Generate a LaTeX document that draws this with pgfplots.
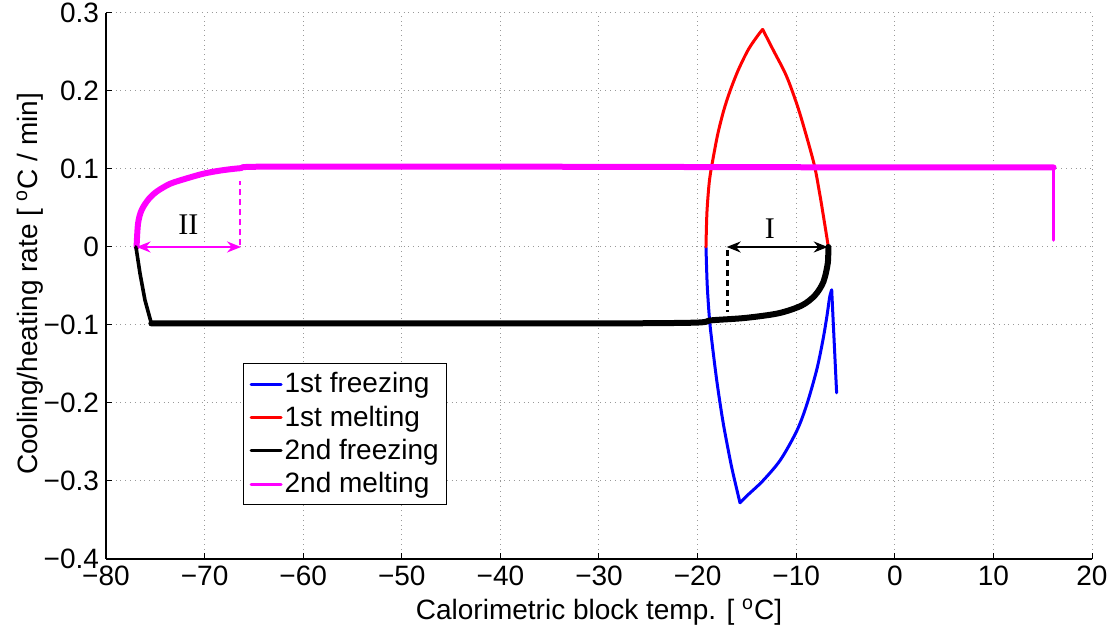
\documentclass[border=0pt]{standalone}
\usepackage{fontspec}
\setmainfont{Liberation Sans}
\newfontfamily\seriffont{Liberation Serif}
\usepackage{pgfplots}
\pgfplotsset{compat=1.18}
\usetikzlibrary{arrows.meta}
\definecolor{mblue}{RGB}{0,0,255}
\definecolor{mred}{RGB}{255,0,0}
\definecolor{mmag}{RGB}{255,0,255}
\begin{document}
\begin{tikzpicture}[font=\fontsize{14}{16}\selectfont]
\begin{axis}[name=ax, scale only axis, width=493pt, height=273pt,
  xmin=-80, xmax=20, ymin=-0.4, ymax=0.3,
  axis x line*=bottom, axis y line*=left,
  axis line style={-, line width=0.6pt},
  xtick={-80,-70,-60,-50,-40,-30,-20,-10,0,10,20},
  xticklabels={−80,−70,−60,−50,−40,−30,−20,−10,0,10,20},
  ytick={-0.4,-0.3,-0.2,-0.1,0,0.1,0.2,0.3},
  yticklabels={−0.4,−0.3,−0.2,−0.1,0,0.1,0.2,0.3},
  tick align=inside, major tick length=3pt,
  tick style={black, line width=0.5pt},
  grid=major, grid style={dotted, gray!80, line width=0.5pt},
  xlabel={Calorimetric block temp. [ \textsuperscript{o}C]},
  ylabel={Cooling/heating rate [ \textsuperscript{o}C / min]},
  xlabel style={at={(axis description cs:0.5,-0.097)}, anchor=center},
  ylabel style={at={(axis description cs:-0.077,0.504)}, anchor=center},
  legend style={at={(axis description cs:0.139,0.359)}, anchor=north west,
    draw=black, line width=0.6pt, inner xsep=3pt, inner ysep=2.5pt,
    row sep=1pt, nodes={inner xsep=1pt}},
  legend cell align=left,
  legend image code/.code={\draw[#1, line width=1.5pt] (0pt,0pt) -- (15pt,0pt);},
  every axis plot/.append style={line cap=round, line join=round},
]
% 1st freezing
\addplot[mblue, line width=1.5pt] coordinates {
(-5.9,-0.187) (-6.4,-0.055)
};
\addlegendentry{1st freezing}
\addplot[mblue, line width=1.5pt, smooth, tension=0.5, forget plot] coordinates {
(-6.4,-0.055) (-6.6,-0.064) (-6.9,-0.09) (-7.3,-0.12)
(-7.93,-0.158) (-8.95,-0.203) (-9.95,-0.236) (-11.6,-0.273)
(-13.4,-0.300) (-15.0,-0.319) (-15.7,-0.328)
};
\addplot[mblue, line width=1.5pt, smooth, tension=0.4, forget plot] coordinates {
(-15.7,-0.328) (-16.55,-0.282) (-17.4,-0.226)
(-18.07,-0.170) (-18.74,-0.100) (-19.02,-0.05) (-19.15,0)
};
% 1st melting
\addplot[mred, line width=1.5pt, smooth, tension=0.5] coordinates {
(-19.15,0) (-19.05,0.045) (-18.8,0.085) (-18.45,0.112) (-17.95,0.145)
(-17.35,0.175) (-16.71,0.200) (-15.87,0.227) (-14.86,0.253) (-13.9,0.271) (-13.4,0.279)
};
\addlegendentry{1st melting}
\addplot[mred, line width=1.5pt, smooth, tension=0.5, forget plot] coordinates {
(-13.4,0.279) (-12.35,0.253) (-11.16,0.224) (-10.43,0.201) (-9.53,0.167)
(-8.22,0.108) (-7.64,0.070) (-7.18,0.035) (-6.8,0.005) (-6.74,0)
};
% 2nd freezing
\addplot[black, line width=3pt, smooth, tension=0.5] coordinates {
(-6.74,0) (-6.8,-0.021) (-7.25,-0.045) (-8.1,-0.062) (-9.44,-0.075)
(-11.8,-0.085) (-15.2,-0.091) (-18.6,-0.094) (-20.26,-0.097) (-30,-0.098)
(-50,-0.098) (-70,-0.098) (-75.4,-0.098)
};
\addlegendentry{2nd freezing}
% 2nd melting
\addplot[mmag, line width=3pt, smooth, tension=0.5] coordinates {
(-76.9,0) (-76.75,0.030) (-76.4,0.047) (-75.7,0.061) (-74.86,0.071) (-73.5,0.081)
(-71.8,0.088) (-70.1,0.094) (-68.4,0.098) (-66.4,0.101) (-63.7,0.103)
(-40,0.103) (0,0.102) (16.1,0.102)
};
\addlegendentry{2nd melting}
\addplot[mmag, line width=1.8pt, forget plot] coordinates {(16.1,0.102) (16.1,0.009)};
\addplot[black, line width=1.8pt, forget plot] coordinates {
(-75.4,-0.098) (-76.05,-0.068) (-76.55,-0.034) (-76.96,0)
};
% annotations
\addplot[black, line width=1.4pt, line cap=butt, dash pattern=on 3pt off 2pt, forget plot] coordinates {(-16.96,-0.004) (-16.96,-0.083)};
\addplot[black, line width=1.1pt, line cap=butt, {Stealth[length=7pt,width=5.5pt]}-{Stealth[length=7pt,width=5.5pt]}, forget plot] coordinates {(-17.05,0) (-6.8,0)};
\addplot[mmag, line width=1.4pt, line cap=butt, dash pattern=on 3pt off 2pt, forget plot] coordinates {(-66.4,0.002) (-66.4,0.085)};
\addplot[mmag, line width=1.1pt, line cap=butt, {Stealth[length=7pt,width=5.5pt]}-{Stealth[length=7pt,width=5.5pt]}, forget plot] coordinates {(-76.9,0) (-66.3,0)};
\node[font=\seriffont\fontsize{15}{17}\selectfont] at (axis cs:-71.65,0.028) {II};
\node[font=\seriffont\fontsize{15}{17}\selectfont] at (axis cs:-12.66,0.024) {I};
\end{axis}
\pgfresetboundingbox
\path[use as bounding box] (ax.south west) ++(-53pt,-38pt) rectangle ++(557pt,317.5pt);
\end{tikzpicture}
\end{document}
